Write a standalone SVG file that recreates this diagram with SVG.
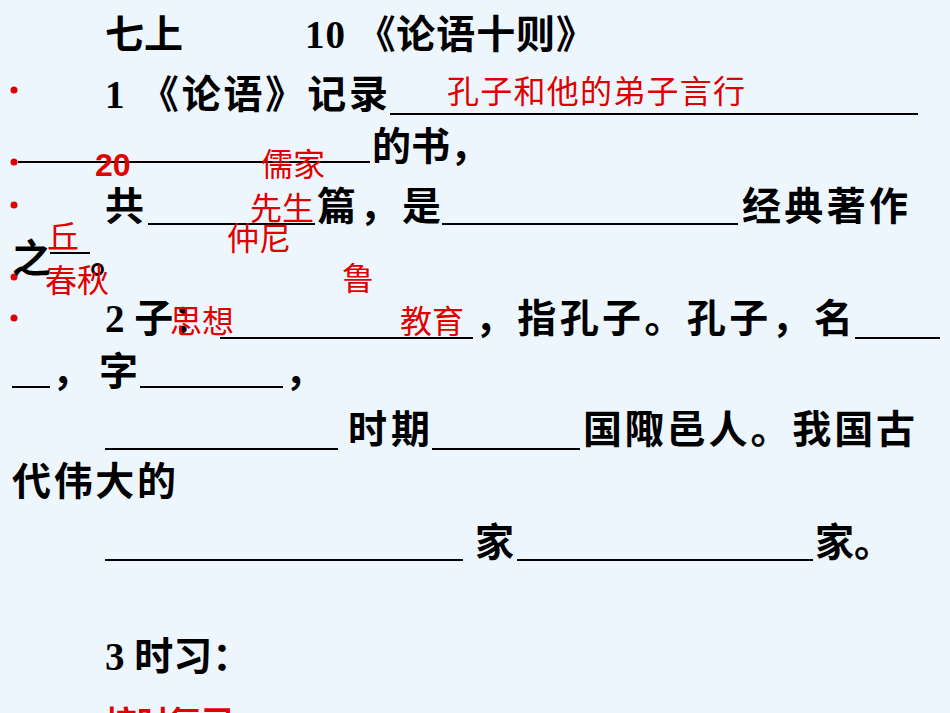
<svg xmlns="http://www.w3.org/2000/svg" width="950" height="713" viewBox="0 0 950 713">
<style>
.b{font-family:"Liberation Serif","Noto Sans CJK SC",serif;font-weight:bold;font-size:39px;fill:#000}
.r{font-family:"Liberation Sans","Noto Sans CJK SC",sans-serif;font-size:32px;fill:#e00000}
.u{stroke:#000;stroke-width:2}
.d{fill:#e00000}
</style>
<rect width="950" height="713" fill="#eef6fd"/>
<g id="bullets"><circle class="d" cx="14" cy="90" r="3.5"/><circle class="d" cx="14" cy="162" r="3.5"/><circle class="d" cx="14" cy="205" r="3.5"/><circle class="d" cx="14" cy="277" r="3.5"/><circle class="d" cx="14" cy="318" r="3.5"/></g>
<g id="lines" class="u">
<line x1="390" y1="114" x2="918" y2="114"/>
<line x1="18" y1="162" x2="370" y2="162"/>
<line x1="148" y1="224" x2="315" y2="224"/>
<line x1="442" y1="224" x2="738" y2="224"/>
<line x1="50" y1="253" x2="90" y2="253"/>
<line x1="220" y1="338" x2="473" y2="338"/>
<line x1="855" y1="338" x2="940" y2="338"/>
<line x1="12" y1="387" x2="50" y2="387"/>
<line x1="140" y1="387" x2="283" y2="387"/>
<line x1="105" y1="449" x2="338" y2="449"/>
<line x1="432" y1="449" x2="580" y2="449"/>
<line x1="105" y1="560" x2="463" y2="560"/>
<line x1="517" y1="560" x2="813" y2="560"/>
</g>
<g id="text">
<text class="b" x="105" y="48">七上</text>
<text class="b" x="305" y="48" textLength="290">10 《论语十则》</text>
<text class="b" x="105" y="108" textLength="283">1 《论语》记录</text>
<text class="b" x="372" y="160">的书，</text>
<text class="b" x="105" y="220">共</text>
<text class="b" x="317" y="220" textLength="124">篇，是</text>
<text class="b" x="742" y="220" textLength="166">经典著作</text>
<text class="b" x="12" y="272">之</text>
<text class="b" x="90" y="272">。</text>
<text class="b" x="105" y="332">2 子：</text>
<text class="b" x="475" y="332" textLength="378">，指孔子。孔子，名</text>
<text class="b" x="52" y="385" textLength="86">，字</text>
<text class="b" x="285" y="385">，</text>
<text class="b" x="348" y="443" textLength="82">时期</text>
<text class="b" x="583" y="443" textLength="332">国陬邑人。我国古</text>
<text class="b" x="12" y="495" textLength="164">代伟大的</text>
<text class="b" x="475" y="556">家</text>
<text class="b" x="815" y="556">家。</text>
<text class="b" x="105" y="670">3 时习：</text>
</g>
<g id="answers">
<text class="r" x="447" y="103" textLength="298">孔子和他的弟子言行</text>
<text class="r" x="95" y="176" font-size="28" font-weight="bold">20</text>
<text class="r" x="261" y="176">儒家</text>
<text class="r" x="250" y="220">先生</text>
<text class="r" x="47" y="248">丘</text>
<text class="r" x="227" y="250">仲尼</text>
<text class="r" x="45" y="292">春秋</text>
<text class="r" x="342" y="290">鲁</text>
<text class="r" x="170" y="333">思想</text>
<text class="r" x="400" y="333">教育</text>
<text class="r" x="105" y="734" font-size="40" font-weight="bold">按时复习</text>
</g>
</svg>
